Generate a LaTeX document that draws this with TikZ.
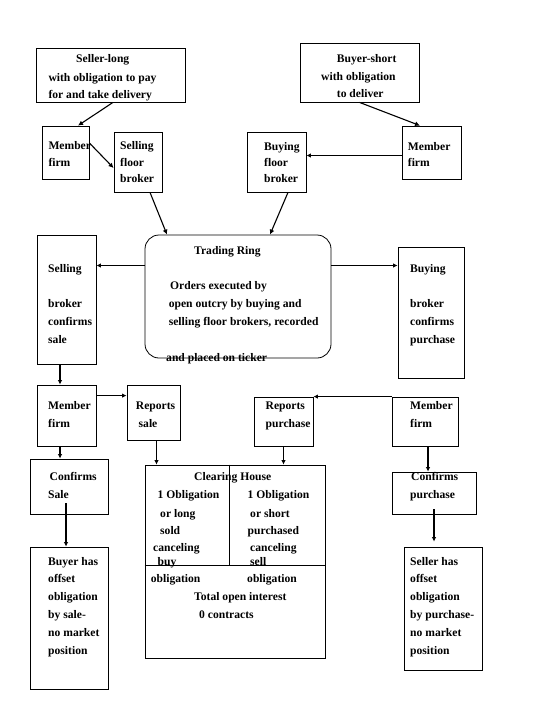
\documentclass[tikz,border=0pt]{standalone}
\usepackage{fontspec}
\setmainfont{Liberation Serif}
\usetikzlibrary{fit,arrows.meta}
\newcommand\tx[4]{\node[lbl] (#1) at (#2,#3+4) {#4};}
\begin{document}
\begin{tikzpicture}[x=1pt,y=-1pt,
  box/.style={draw,line width=0.8pt,inner sep=0pt},
  lbl/.style={anchor=base west,inner sep=0pt,font=\fontsize{11.6}{13}\selectfont\bfseries},
  arr/.style={line width=1.7pt,-{Latex[length=4.5pt,width=4.5pt]}},
  darr/.style={line width=1.1pt,-{Latex[length=5pt,width=5pt]}}]
\fill[white] (0,0) rectangle (540,720);
\useasboundingbox (0,0) rectangle (540,720);
% boxes
\node[box,fit={(36,48) (185,102)}] (sl) {};
\node[box,fit={(42,126) (89,179)}] (mL) {};
\node[box,fit={(114,132) (162,192)}] (sfb) {};
\node[box,fit={(300,43) (419,102)}] (bs) {};
\node[box,fit={(402,126) (461,179)}] (mR) {};
\node[box,fit={(247,132) (306,192)}] (bfb) {};
\node[box,fit={(37,235) (96,364)}] (sbc) {};
\node[box,rounded corners=14pt,fit={(145,235) (331,358)}] (ring) {};
\node[box,fit={(398,247) (464,378)}] (bbc) {};
\node[box,fit={(37,385) (96,446)}] (mL2) {};
\node[box,fit={(127,385) (180,440)}] (rs) {};
\node[box,fit={(254,397) (313,446)}] (rp) {};
\node[box,fit={(392,397) (458,446)}] (mR2) {};
\node[box,fit={(30,459) (108,514)}] (csale) {};
\node[box,fit={(145,465) (325,658)}] (ch) {};
\node[box,fit={(392,472) (476,514)}] (cpur) {};
\node[box,fit={(30,547) (108,689)}] (bhas) {};
\node[box,fit={(404,547) (482,670)}] (shas) {};
% clearing house dividers
\coordinate (chmid) at (229.5,565);
\draw[line width=0.8pt] (ch.north -| chmid) -- (chmid);
\draw[line width=0.8pt] (ch.west |- chmid) -- (ch.east |- chmid);
% connectors
\draw[darr] ([xshift=2.5pt]sl.south) -- ([xshift=12.5pt]mL.north);
\draw[darr] ([yshift=9.5pt]mL.east) -- ([yshift=-6pt]sfb.west);
\draw[darr] ([xshift=12pt]sfb.south) -- ([xshift=-71pt]ring.north);
\draw[darr] (bs.south) -- ([xshift=-11.5pt]mR.north);
\draw[arr] ([yshift=-3pt]mR.west) -- ([yshift=-3pt]mR.west -| bfb.east);
\draw[darr] ([xshift=11.5pt]bfb.south) -- ([xshift=32pt]ring.north);
\draw[arr] ([yshift=31pt]ring.west) -- ([yshift=31pt]ring.west -| sbc.east);
\draw[arr] ([yshift=31pt]ring.east) -- ([yshift=31pt]ring.east -| bbc.west);
\draw[arr] ([xshift=-6.5pt]sbc.south) -- ([xshift=-6.5pt]mL2.north);
\draw[arr] ([yshift=-11pt]mL2.north east) -- ([yshift=-11pt]mL2.north east -| rs.west);
\draw[arr] (mR2.north west) -- (rp.north east);
\draw[arr] ([xshift=-6.5pt]mL2.south) -- ([xshift=-6.5pt]mL2.south |- csale.north);
\draw[arr] ([xshift=3pt]rs.south) -- ([xshift=3pt]rs.south |- ch.north);
\draw[arr] (rp.south) -- (rp.south |- ch.north);
\draw[arr] ([xshift=3pt]mR2.south) -- ([xshift=3pt]mR2.south |- cpur.north);
\draw[arr] ([xshift=-3pt,yshift=11pt]csale.south) -- ([xshift=-3pt]bhas.north);
\draw[arr] ([yshift=5pt]cpur.south) -- ([yshift=5pt]cpur.south |- shas.north);
% texts
\tx{t1}{76}{58.3}{Seller-long}
\tx{t2}{48.3}{77}{with obligation to pay}
\tx{t3}{48.3}{94}{for and take delivery}
\tx{t4}{48.3}{145.7}{Member}
\tx{t5}{48.3}{162.3}{firm}
\tx{t6}{120}{145.7}{Selling}
\tx{t7}{120}{162.3}{floor}
\tx{t8}{120}{178.3}{broker}
\tx{t9}{336.7}{58.3}{Buyer-short}
\tx{t10}{321}{76}{with obligation}
\tx{t11}{336.7}{93.3}{to deliver}
\tx{t12}{264}{146}{Buying}
\tx{t13}{264}{162.3}{floor}
\tx{t14}{264}{178.3}{broker}
\tx{t15}{407.7}{146}{Member}
\tx{t16}{407.7}{162.3}{firm}
\tx{t17}{48}{268}{Selling}
\tx{t18}{48}{303}{broker}
\tx{t19}{48}{321.6}{confirms}
\tx{t20}{48}{339}{sale}
\tx{t21}{194}{250}{Trading Ring}
\tx{t22}{170}{285.6}{Orders executed by}
\tx{t23}{168.6}{303}{open outcry by buying and}
\tx{t24}{168.6}{321.6}{selling floor brokers, recorded}
\tx{t25}{166}{357}{and placed on ticker}
\tx{t26}{410}{268}{Buying}
\tx{t27}{410}{303}{broker}
\tx{t28}{410}{321.6}{confirms}
\tx{t29}{410}{339}{purchase}
\tx{t30}{48}{405}{Member}
\tx{t31}{48}{423}{firm}
\tx{t32}{135.7}{405}{Reports}
\tx{t33}{138.5}{423}{sale}
\tx{t34}{265.5}{405}{Reports}
\tx{t35}{265.5}{423}{purchase}
\tx{t36}{410}{405}{Member}
\tx{t37}{410}{423}{firm}
\tx{t38}{49.5}{476.6}{Confirms}
\tx{t39}{48}{494}{Sale}
\tx{t40}{411}{476.6}{Confirms}
\tx{t41}{410}{494}{purchase}
\tx{t42}{194}{476.6}{Clearing House}
\tx{t43}{157.5}{494}{1 Obligation}
\tx{t44}{160}{513}{or long}
\tx{t45}{160}{530.6}{sold}
\tx{t46}{153}{547}{canceling}
\tx{t47}{157.5}{561.5}{buy}
\tx{t48}{247.5}{494}{1 Obligation}
\tx{t49}{250}{513}{or short}
\tx{t50}{247.5}{530.6}{purchased}
\tx{t51}{250}{547}{canceling}
\tx{t52}{250}{561.5}{sell}
\tx{t53}{150.6}{578.8}{obligation}
\tx{t54}{247}{578.8}{obligation}
\tx{t55}{194}{596.4}{Total open interest}
\tx{t56}{199}{614}{0 contracts}
\tx{t57}{48}{561.5}{Buyer has}
\tx{t58}{48}{578.8}{offset}
\tx{t59}{48}{596.4}{obligation}
\tx{t60}{48}{614}{by sale-}
\tx{t61}{48}{632.8}{no market}
\tx{t62}{48}{650.8}{position}
\tx{t63}{410}{561.5}{Seller has}
\tx{t64}{410}{578.8}{offset}
\tx{t65}{410}{596.4}{obligation}
\tx{t66}{410}{614}{by purchase-}
\tx{t67}{410}{632.8}{no market}
\tx{t68}{410}{650.8}{position}
\end{tikzpicture}
\end{document}
